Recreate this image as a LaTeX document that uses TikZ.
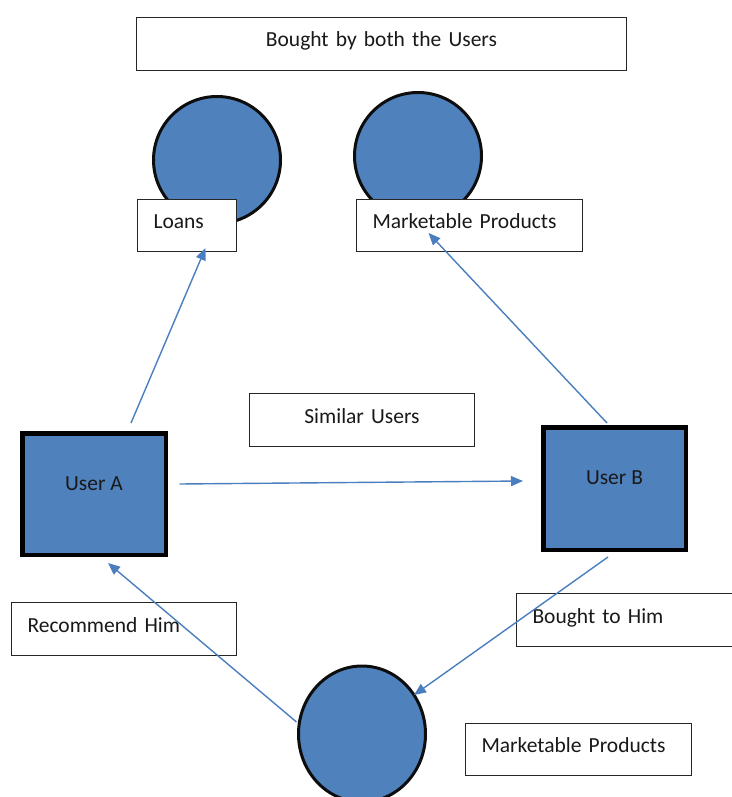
\documentclass[tikz,border=0pt]{standalone}
\usepackage{fontspec}
\setmainfont{Carlito}
\usetikzlibrary{arrows.meta,shapes.geometric}
\definecolor{shapeblue}{RGB}{79,129,189}
\definecolor{linkblue}{RGB}{74,126,190}
\begin{document}
\begin{tikzpicture}[x=1pt,y=-1pt,
  every node/.style={font=\fontsize{21.5}{25}\selectfont, text=black!90},
  labelbox/.style={draw=black!85, line width=1pt, fill=white, rectangle,
    anchor=north west, inner xsep=16pt, inner ysep=14pt,
    text height=15pt, text depth=9pt},
  leftbox/.style={labelbox, align=left},
  midbox/.style={labelbox, align=center},
  userbox/.style={draw=black, line width=4.5pt, fill=shapeblue, rectangle,
    inner sep=0pt, text height=5pt, text depth=13pt},
  product/.style={draw=black!95, line width=3pt, fill=shapeblue, inner sep=0pt},
  link/.style={draw=linkblue, line width=1.4pt,
    -{Triangle[length=12pt,width=10pt]}}
]
\useasboundingbox (0,0) rectangle (731,797);

% product circles at the top
\node[product, circle, minimum size=127pt] (c1) at (217,160) {};
\node[product, circle, minimum size=127pt] (c2) at (418,156) {};

% labels
\node[midbox, text width=458pt, minimum height=53pt] (both) at (136,17) {Bought by both the Users};
\node[leftbox, text width=67pt] (loans) at (137,199) {Loans};
\node[leftbox, text width=194pt] (mkt1) at (356,199) {Marketable Products};
\node[midbox, text width=193pt, minimum height=53pt] (similar) at (249,393) {Similar Users};
\node[leftbox, text width=193pt, minimum height=53pt] (recommend) at (11,602) {Recommend Him};
\node[leftbox, text width=193pt, minimum height=53pt] (bought) at (516,593) {Bought to Him};
\node[leftbox, text width=194pt] (mkt2) at (465,723) {Marketable Products};

% users
\node[userbox, minimum width=143.5pt, minimum height=121.5pt] (ua) at (94,494) {User A};
\node[userbox, minimum width=142.5pt, minimum height=122.5pt] (ub) at (614.5,488.5) {User B};

% product at the bottom
\node[product, ellipse, minimum width=127pt, minimum height=136pt] (pc) at (362,734) {};

% connectors
\draw[link] ([xshift=11.5pt,yshift=10pt]ua.east) -- ([xshift=-18pt,yshift=7.5pt]ub.west);
\draw[link] ([xshift=37pt,yshift=8pt]ua.north) -- ([xshift=18.5pt,yshift=4pt]loans.south);
\draw[link] ([xshift=-7.5pt,yshift=2pt]ub.north) -- ([xshift=-41pt,yshift=19pt]mkt1.south);
\draw[link] ([xshift=-6.5pt,yshift=-5pt]ub.south) -- ([xshift=52pt,yshift=39pt]pc.center);
\draw[link] ([xshift=-65.5pt,yshift=12pt]pc.center) -- ([xshift=14pt,yshift=-6pt]ua.south);
\end{tikzpicture}
\end{document}
